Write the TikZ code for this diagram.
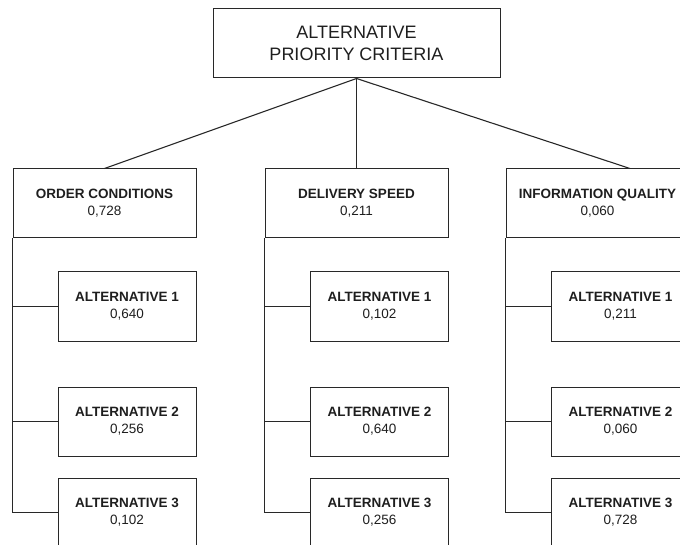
\documentclass[tikz,border=0pt]{standalone}
\usepackage{fontspec}
\setmainfont{Liberation Sans}

\definecolor{boxline}{RGB}{40,40,40}
\definecolor{boxtext}{RGB}{30,30,30}

\begin{document}
\begin{tikzpicture}[x=1pt,y=-1pt,
    goal/.style={draw=boxline,line width=1pt,minimum width=287pt,minimum height=69pt,
      inner sep=0pt,align=center,text=boxtext,font=\fontsize{18}{22}\selectfont},
    crit/.style={draw=boxline,line width=1pt,minimum width=183pt,minimum height=69pt,
      inner sep=0pt,align=center,text=boxtext,font=\fontsize{13.5}{17}\selectfont},
    alt/.style={crit,minimum width=138pt},
    link/.style={draw=boxline,line width=1.1pt}]

    \useasboundingbox (0,0) rectangle (680,545);
    \clip (0,0) rectangle (680,545);

    \node[goal] (goal) at (356.5,43.5) {ALTERNATIVE\\PRIORITY CRITERIA};

    \node[crit] (oc) at (104.5,203.5) {\textbf{ORDER CONDITIONS}\\0,728};
    \node[crit] (ds) at (356.5,203.5) {\textbf{DELIVERY SPEED}\\0,211};
    \node[crit] (iq) at (597.5,203.5) {\textbf{INFORMATION QUALITY}\\0,060};

    \node[alt] (oc1) at (127,306.5) {\textbf{ALTERNATIVE 1}\\0,640};
    \node[alt] (oc2) at (127,421.5) {\textbf{ALTERNATIVE 2}\\0,256};
    \node[alt] (oc3) at (127,512.5) {\textbf{ALTERNATIVE 3}\\0,102};

    \node[alt] (ds1) at (379.5,306.5) {\textbf{ALTERNATIVE 1}\\0,102};
    \node[alt] (ds2) at (379.5,421.5) {\textbf{ALTERNATIVE 2}\\0,640};
    \node[alt] (ds3) at (379.5,512.5) {\textbf{ALTERNATIVE 3}\\0,256};

    \node[alt] (iq1) at (620.5,306.5) {\textbf{ALTERNATIVE 1}\\0,211};
    \node[alt] (iq2) at (620.5,421.5) {\textbf{ALTERNATIVE 2}\\0,060};
    \node[alt] (iq3) at (620.5,512.5) {\textbf{ALTERNATIVE 3}\\0,728};

    \draw[link] (goal.south) -- (oc.north);
    \draw[link] (goal.south) -- (ds.north);
    \draw[link] (goal.south) -- ([xshift=32.5pt]iq.north);

    \draw[link] (oc.south west) |- (oc1.west);
    \draw[link] (oc.south west) |- (oc2.west);
    \draw[link] (oc.south west) |- (oc3.west);

    \draw[link] (ds.south west) |- (ds1.west);
    \draw[link] (ds.south west) |- (ds2.west);
    \draw[link] (ds.south west) |- (ds3.west);

    \draw[link] (iq.south west) |- (iq1.west);
    \draw[link] (iq.south west) |- (iq2.west);
    \draw[link] (iq.south west) |- (iq3.west);

  \end{tikzpicture}
\end{document}
